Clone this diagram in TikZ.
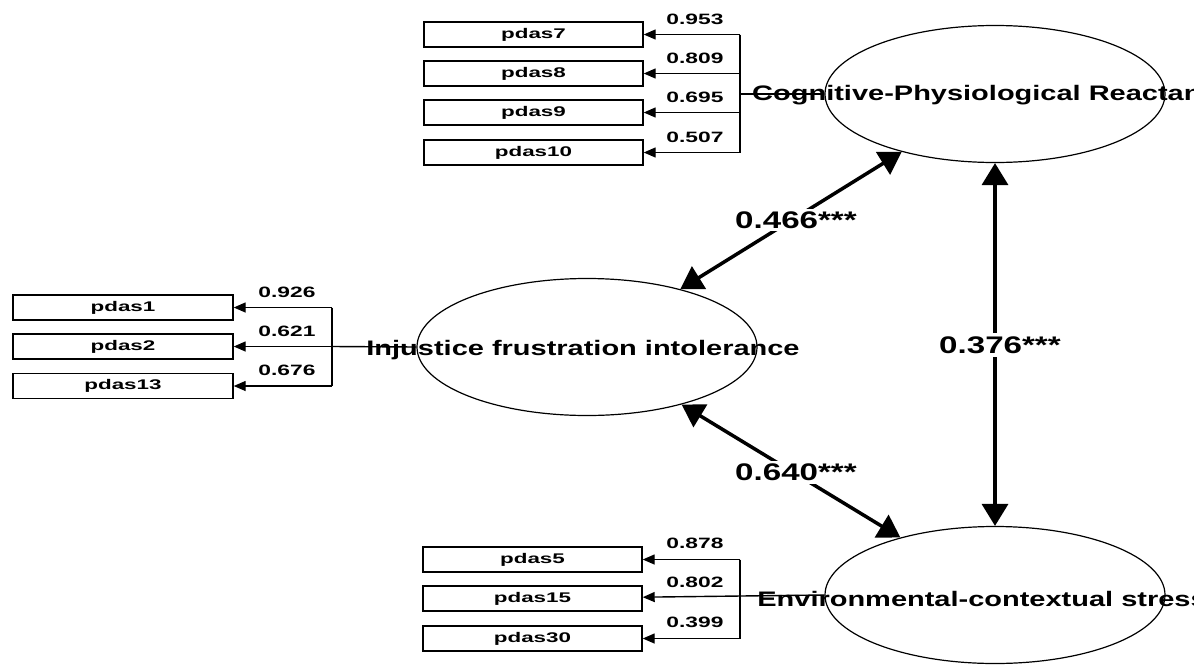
\documentclass[tikz,border=0pt]{standalone}
\usepackage{fontspec}
\newfontfamily\smallfam[FakeStretch=1.6]{Liberation Sans}
\newfontfamily\loadfam[FakeStretch=1.52]{Liberation Sans}
\newfontfamily\bigfam[FakeStretch=1.38]{Liberation Sans}
\usetikzlibrary{arrows.meta,shapes.geometric}
\tikzset{
  item/.style={draw, line width=1.4pt, minimum width=219pt, minimum height=25pt, inner sep=0pt,
    font=\smallfam\bfseries\fontsize{14}{14}\selectfont},
  latent/.style={draw, ellipse, line width=1.2pt, minimum width=340pt, minimum height=137pt, inner sep=0pt},
  lattext/.style={font=\bigfam\bfseries\fontsize{21}{21}\selectfont, inner sep=0pt},
  load/.style={font=\loadfam\bfseries\fontsize{15}{15}\selectfont, inner sep=0pt},
  corr/.style={font=\bigfam\bfseries\fontsize{24}{24}\selectfont, fill=white, inner sep=3pt},
  ind/.style={-{Triangle[length=12pt,width=10pt]}, line width=1.4pt},
  bar/.style={line width=1.4pt},
  cov/.style={{Triangle[length=22pt,width=26pt]}-{Triangle[length=22pt,width=26pt]}, line width=3.5pt}
}
\begin{document}
\begin{tikzpicture}[x=1pt,y=-1pt]
\useasboundingbox (0,0) rectangle (1194,664);
\clip (0,0) rectangle (1194,664);
% latent ellipses
\node[latent] (cpr) at (995,94) {};
\node[latent] (inj) at (587,347) {};
\node[latent] (env) at (995,595) {};
% top indicators
\node[item] (p7) at (533.5,34.5) {pdas7};
\node[item] (p8) at (533.5,73.5) {pdas8};
\node[item] (p9) at (533.5,112.5) {pdas9};
\node[item] (p10) at (533.5,152.5) {pdas10};
\coordinate (b7) at (740,34.5);
\coordinate (b8) at (740,73.5);
\coordinate (b9) at (740,112.5);
\coordinate (b10) at (740,152.5);
\coordinate (bc) at (740,94);
\draw[bar] (b7) -- (b10);
\draw[bar] (bc) -- (cpr);
\draw[ind] (b7) -- (p7);
\draw[ind] (b8) -- (p8);
\draw[ind] (b9) -- (p9);
\draw[ind] (b10) -- (p10);
\node[load] (l7) at (695,19) {0.953};
\node[load] (l8) at (695,58) {0.809};
\node[load] (l9) at (695,97) {0.695};
\node[load] (l10) at (695,137) {0.507};
% left indicators
\node[item, minimum width=220pt] (p1) at (123,307.5) {pdas1};
\node[item, minimum width=220pt] (p2) at (123,346.5) {pdas2};
\node[item, minimum width=220pt] (p13) at (123,386) {pdas13};
\coordinate (b1) at (332,307.5);
\coordinate (b2) at (332,346.5);
\coordinate (b13) at (332,386);
\draw[bar] (b1) -- (b13);
\draw[bar] (b2) -- (inj.west);
\draw[ind] (b1) -- (p1);
\draw[ind] (b2) -- (p2);
\draw[ind] (b13) -- (p13);
\node[load] (l1) at (287,292) {0.926};
\node[load] (l2) at (287,331.5) {0.621};
\node[load] (l13) at (287,370.5) {0.676};
% bottom indicators
\node[item] (p5) at (532.5,559.5) {pdas5};
\node[item] (p15) at (532.5,598.5) {pdas15};
\node[item] (p30) at (532.5,638.5) {pdas30};
\coordinate (b5) at (740,559.5);
\coordinate (b15) at (740,598.5);
\coordinate (b30) at (740,638.5);
\draw[bar] (b5) -- (b30);
\draw[ind] (env.west) -- (p15);
\draw[ind] (b5) -- (p5);
\draw[ind] (b30) -- (p30);
\node[load] (l5) at (695,543.5) {0.878};
\node[load] (l15) at (695,582.5) {0.802};
\node[load] (l30) at (695,622.5) {0.399};
% covariances
\draw[cov] (inj) -- (cpr);
\draw[cov] (cpr) -- (env);
\draw[cov] (inj) -- (env);
\node[corr] (c1) at (796,220) {0.466***};
\node[corr] (c2) at (1000,345) {0.376***};
\node[corr] (c3) at (796,472) {0.640***};
% latent labels
\node[lattext] (cprlab) at (993,95) {Cognitive-Physiological Reactance};
\node[lattext] (injlab) at (583,350) {Injustice frustration intolerance};
\node[lattext] (envlab) at (982,599) {Environmental-contextual stress};
\end{tikzpicture}
\end{document}
